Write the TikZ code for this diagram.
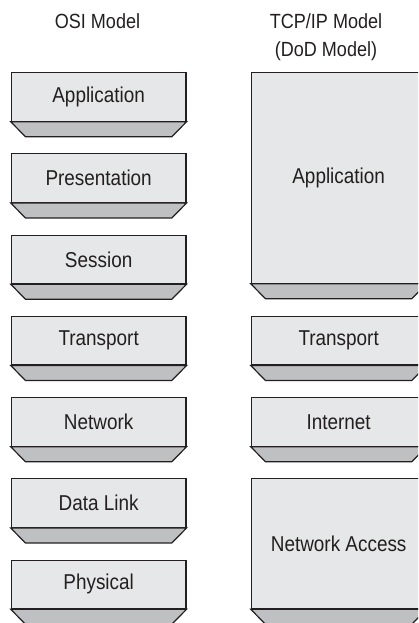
\documentclass[tikz,border=0pt]{standalone}
\usepackage{fontspec}
\setmainfont[FakeStretch=0.88]{Liberation Sans}
\definecolor{facegray}{HTML}{E6E7E8}
\definecolor{bevelgray}{HTML}{BFC0C2}
\definecolor{inkgray}{HTML}{231F20}
\begin{document}
\begin{tikzpicture}[x=1pt,y=-1pt,
  face/.style={draw=inkgray, line width=1.2pt, fill=facegray, minimum width=174.7pt,
    inner sep=0pt, anchor=north, text=inkgray, font=\fontsize{21.5}{25}\selectfont},
  bevelfill/.style={draw=inkgray, line width=1.2pt, fill=bevelgray, line join=miter},
  title/.style={text=inkgray, font=\fontsize{20.5}{22.5}\selectfont, align=center, inner sep=0pt}
]
\useasboundingbox (0,0) rectangle (418,623);
\clip (0,0) rectangle (418,623);
\newcommand{\bevelunder}[1]{%
  \draw[bevelfill] (#1.south west) -- ++(14.7,15) -- ([shift={(-14.7,15)}]#1.south east) -- (#1.south east) -- cycle;}

% titles
\node[title, anchor=base] (osititle) at (97.5,28.3) {OSI Model};
\node[title, anchor=base] (tcptitle) at (326,28.3) {TCP/IP Model};
\node[title, anchor=base] (dodtitle) at (326,57) {(DoD Model)};

% OSI layers
\node[face, minimum height=48.5pt] (app) at (98.65,72) {Application};
\node[face, minimum height=48.5pt] (pres) at (98.65,153.25) {Presentation};
\node[face, minimum height=48.5pt] (sess) at (98.65,234.5) {Session};
\node[face, minimum height=48.5pt] (trans) at (98.65,315.75) {Transport};
\node[face, minimum height=48.5pt] (net) at (98.65,397) {Network};
\node[face, minimum height=48.5pt] (dl) at (98.65,478.25) {Data Link};
\node[face, minimum height=48.5pt] (phys) at (98.65,559.5) {Physical};
\bevelunder{app}
\bevelunder{pres}
\bevelunder{sess}
\bevelunder{trans}
\bevelunder{net}
\bevelunder{dl}
\bevelunder{phys}

% TCP/IP layers
\node[face, minimum height=210.5pt] (tapp) at (338.65,72) {Application};
\node[face, minimum height=48.5pt] (ttrans) at (338.65,315.75) {Transport};
\node[face, minimum height=48.5pt] (tinet) at (338.65,397) {Internet};
\node[face, minimum height=129.75pt] (tna) at (338.65,478.25) {Network Access};
\bevelunder{tapp}
\bevelunder{ttrans}
\bevelunder{tinet}
\bevelunder{tna}
\end{tikzpicture}
\end{document}
